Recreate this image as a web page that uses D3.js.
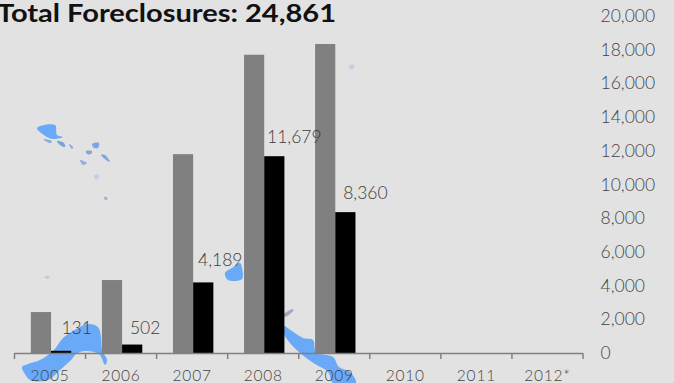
<!DOCTYPE html>
<html>
<head>
<meta charset="utf-8">
<script src="https://cdn.jsdelivr.net/npm/d3@7/dist/d3.min.js"></script>
<style>
  html, body { margin: 0; padding: 0; background: #e2e2e2; }
  svg { display: block; }
  text { font-family: "Lato", "Open Sans", sans-serif; }
</style>
</head>
<body>
<svg id="chart" width="674" height="383"></svg>
<script>
const years = ["2005", "2006", "2007", "2008", "2009", "2010", "2011", "2012*"];
const seriesNames = ["filings", "foreclosures"];
const filings = [2430, 4330, 11800, 17700, 18340, null, null, null];
const foreclosures = [131, 502, 4189, 11679, 8360, null, null, null];
const yTicks = [0, 2000, 4000, 6000, 8000, 10000, 12000, 14000, 16000, 18000, 20000];
const titleText = "Total Foreclosures: 24,861";
const labelNudgeX = [15.5, 13, 17, 20, 20, 0, 0, 0];
const labelNudgeY = [-23, -17, -22, -19, -19, 0, 0, 0];

// Pale map fragments that sit behind the plot
const mapShapes = [
  { fill: "#6aa9f8", pts: [[22,367],[28,364],[40,360],[53,351],[63,338],[73,331],[88,324],[98,327],[101,337],[102,350],[107,360],[105,365],[99,354],[85,351],[76,354],[72,359],[60,370],[48,380],[30,380],[25,374]] },
  { fill: "#6aa9f8", pts: [[284,326],[292,331],[303,338],[313,340],[316,352],[333,357],[339,367],[350,372],[356,383],[333,383],[328,372],[315,364],[300,353],[290,343],[284,334]] },
  { fill: "#6aa9f8", pts: [[225,273],[232,268],[240,263],[242,268],[242,279],[228,280]] },
  { fill: "#6aa9f8", pts: [[37,128],[55,125],[57,135],[63,137],[53,139],[47,137]] },
  { fill: "#8aa9e0", pts: [[43,139],[52,141],[50,143]] },
  { fill: "#7d9fdc", pts: [[57,141],[64,143],[65,147],[60,145]] },
  { fill: "#8aa9e0", pts: [[69,144],[73,147],[72,149]] },
  { fill: "#7ea6e8", pts: [[92,144],[99,143],[98,148],[94,148]] },
  { fill: "#86a3dc", pts: [[86,151],[92,151],[91,154],[87,154]] },
  { fill: "#7ea6e8", pts: [[101,155],[105,155],[110,162],[106,160]] },
  { fill: "#9ab0dc", pts: [[80,160],[87,163],[83,165]] },
  { fill: "#c4cfe4", pts: [[94,175],[99,175],[98,179],[95,179]] },
  { fill: "#a4b4d8", pts: [[104,197],[107,197],[107,200],[105,200]] },
  { fill: "#c4cfe8", pts: [[349,65],[354,65],[353,69],[350,69]] },
  { fill: "#c2cad8", pts: [[44,277],[49,276],[48,279]] },
  { fill: "#9fa9bd", pts: [[283,315],[293,309],[293,311],[285,317]] }
];

const svg = d3.select("#chart");
const baseY = 353, topY = 16;
const x = d3.scaleBand().domain(years).range([14.5, 583]);
const inner = d3.scaleBand().domain(seriesNames).range([1, x.bandwidth() + 1]).paddingInner(0).paddingOuter(0.76);
const y = d3.scaleLinear().domain([0, 20000]).range([baseY, topY]);

svg.append("g").selectAll("path").data(mapShapes).join("path")
  .attr("d", d => d3.line().curve(d3.curveCatmullRomClosed)(d.pts))
  .attr("fill", d => d.fill);

const barGroups = [
  { name: "filings", values: filings, fill: "#808080" },
  { name: "foreclosures", values: foreclosures, fill: "#000000" }
];
barGroups.forEach(s => {
  svg.append("g").selectAll("rect")
    .data(years.map((yr, i) => ({ yr, v: s.values[i] })).filter(d => d.v !== null))
    .join("rect")
    .attr("x", d => x(d.yr) + inner(s.name))
    .attr("width", inner.bandwidth())
    .attr("y", d => y(d.v))
    .attr("height", d => y(0) - y(d.v))
    .attr("fill", s.fill);
});

// Category axis: line with ticks between the years, hanging from the baseline
const axisG = svg.append("g").attr("stroke", "#808080").attr("stroke-width", 1.5);
axisG.append("line").attr("x1", x.range()[0]).attr("x2", x.range()[1]).attr("y1", baseY + 0.5).attr("y2", baseY + 0.5);
const tickXs = years.map(d => x(d)).concat(x.range()[1]);
axisG.selectAll("line.tick").data(tickXs).join("line").attr("class", "tick")
  .attr("x1", d => d).attr("x2", d => d).attr("y1", baseY).attr("y2", baseY + 6);

svg.append("g").selectAll("text").data(years).join("text")
  .attr("x", d => x(d) + x.bandwidth() / 2)
  .attr("y", 380.5)
  .attr("text-anchor", "middle")
  .attr("font-size", 15.5)
  .attr("letter-spacing", 0.8)
  .attr("font-weight", 300)
  .attr("fill", "#444444")
  .text(d => d);

svg.append("g").selectAll("text").data(yTicks).join("text")
  .attr("x", 600.5)
  .attr("y", d => y(d) + 6)
  .attr("font-size", 17.5)
  .attr("font-weight", 300)
  .attr("fill", "#444444")
  .text(d => d3.format(",")(d));

svg.append("g").selectAll("text")
  .data(years.map((yr, i) => ({ yr, i, v: foreclosures[i] })).filter(d => d.v !== null))
  .join("text")
  .attr("x", d => x(d.yr) + inner("foreclosures") + inner.bandwidth() / 2 + labelNudgeX[d.i])
  .attr("y", d => y(d.v) + labelNudgeY[d.i] + 6)
  .attr("text-anchor", "middle")
  .attr("font-size", 17.5)
  .attr("font-weight", 300)
  .attr("fill", "#3c3c3c")
  .text(d => d3.format(",")(d.v));

svg.append("text")
  .attr("x", -3)
  .attr("y", 21.5)
  .attr("font-size", 24)
  .attr("font-weight", 700)
  .attr("fill", "#111111")
  .attr("textLength", 339)
  .attr("lengthAdjust", "spacingAndGlyphs")
  .text(titleText);
</script>
</body>
</html>
